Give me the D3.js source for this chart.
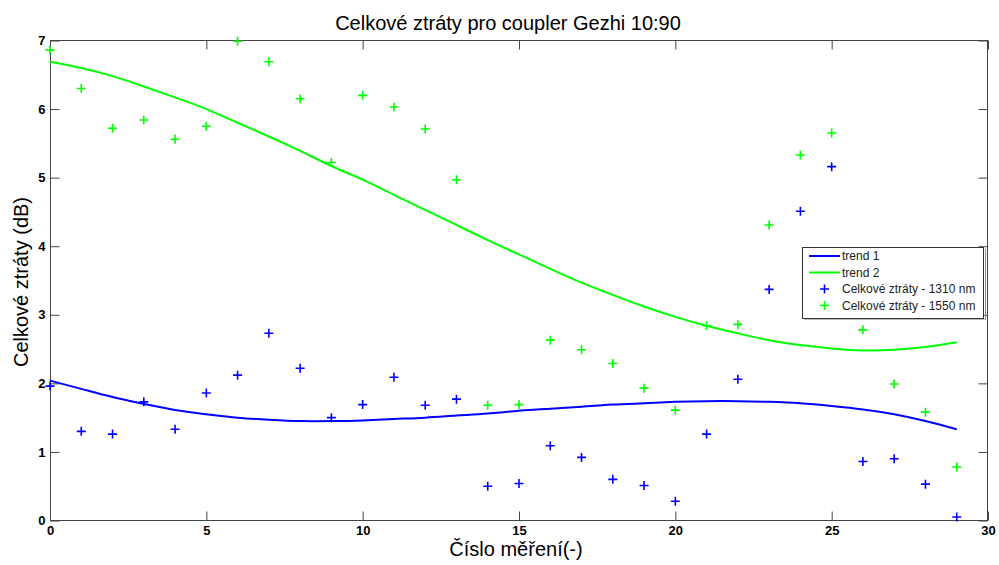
<!DOCTYPE html>
<html>
<head>
<meta charset="utf-8">
<script src="https://cdn.jsdelivr.net/npm/d3@7"></script>
<style>
body{margin:0;background:#fff;}
svg{display:block;font-family:"Liberation Sans",Arial,sans-serif;}
</style>
</head>
<body>
<svg id="chart" width="999" height="565"></svg>
<script>
// ---- data ----
const measurements = d3.range(0, 30);
const loss1310 = [1.96,1.30,1.26,1.73,1.33,1.86,2.12,2.73,2.22,1.50,1.69,2.09,1.68,1.77,0.50,0.54,1.09,0.92,0.60,0.51,0.28,1.26,2.06,3.37,4.51,5.16,0.86,0.90,0.53,0.05];
const loss1550 = [6.86,6.30,5.72,5.84,5.56,5.75,6.99,6.69,6.15,5.22,6.20,6.03,5.71,4.97,1.68,1.69,2.63,2.49,2.29,1.93,1.61,2.84,2.86,4.31,5.33,5.65,2.78,1.99,1.58,0.78];
const trend1 = [2.04,1.92,1.80,1.70,1.61,1.55,1.50,1.47,1.45,1.45,1.46,1.48,1.50,1.53,1.56,1.60,1.63,1.66,1.69,1.71,1.73,1.74,1.74,1.73,1.71,1.67,1.62,1.55,1.45,1.33];
const trend2 = [6.69,6.60,6.48,6.33,6.17,6.00,5.80,5.60,5.39,5.17,4.97,4.75,4.53,4.31,4.09,3.88,3.67,3.47,3.29,3.12,2.97,2.84,2.73,2.63,2.56,2.51,2.48,2.49,2.53,2.60];
const xTicks = [0,5,10,15,20,25,30];
const yTicks = [0,1,2,3,4,5,6,7];
const legendLabels = ["trend 1","trend 2","Celkové ztráty - 1310 nm","Celkové ztráty - 1550 nm"];
const titleText = "Celkové ztráty pro coupler Gezhi 10:90";
const xLabel = "Číslo měření(-)";
const yLabel = "Celkové ztráty (dB)";

const BLUE = "#0000ff", GREEN = "#00ff00";
const svg = d3.select("#chart");
const x = d3.scaleLinear().domain([0,30]).range([50,988]);
const y = d3.scaleLinear().domain([0,7]).range([520.5,40.5]);
const axisColor = "#444";

// box
svg.append("rect").attr("x",50.5).attr("y",40.5).attr("width",937).attr("height",480)
  .attr("fill","none").attr("stroke",axisColor).attr("stroke-width",1);

function styleAxis(g, showLabels){
  g.select(".domain").remove();
  g.selectAll(".tick line").attr("stroke",axisColor).attr("stroke-width",1);
  g.selectAll(".tick text").attr("fill","#000").style("font-size","13px").style("font-weight","bold")
   .style("font-family","'Liberation Sans',Arial,sans-serif");
  if(!showLabels) g.selectAll(".tick text").remove();
}
const fmt = d3.format("d");
svg.append("g").attr("transform","translate(0,520.5)")
  .call(d3.axisBottom(x).tickValues(xTicks).tickFormat(fmt).tickSize(-9).tickPadding(5))
  .call(g=>styleAxis(g,true));
svg.append("g").attr("transform","translate(0,40.5)")
  .call(d3.axisTop(x).tickValues(xTicks).tickSize(-9))
  .call(g=>styleAxis(g,false));
svg.append("g").attr("transform","translate(50.5,0)")
  .call(d3.axisLeft(y).tickValues(yTicks).tickFormat(fmt).tickSize(-9).tickPadding(5))
  .call(g=>styleAxis(g,true));
svg.append("g").attr("transform","translate(987.5,0)")
  .call(d3.axisRight(y).tickValues(yTicks).tickSize(-9))
  .call(g=>styleAxis(g,false));

// trend lines
const line = d3.line().x((d,i)=>x(measurements[i])).y(d=>y(d)).curve(d3.curveNatural);
svg.append("path").datum(trend1).attr("d",line).attr("fill","none").attr("stroke",BLUE).attr("stroke-width",2);
svg.append("path").datum(trend2).attr("d",line).attr("fill","none").attr("stroke",GREEN).attr("stroke-width",2);

// markers
function plus(g, cx, cy, color){
  const s = 4.5;
  g.append("path").attr("d",`M${cx-s},${cy}H${cx+s}M${cx},${cy-s}V${cy+s}`)
    .attr("stroke",color).attr("stroke-width",1.6).attr("fill","none");
}
const m1 = svg.append("g");
loss1310.forEach((v,i)=>plus(m1, x(measurements[i]), y(v), BLUE));
const m2 = svg.append("g");
loss1550.forEach((v,i)=>plus(m2, x(measurements[i]), y(v), GREEN));

// title & labels
svg.append("text").attr("x",508).attr("y",30).attr("text-anchor","middle")
  .style("font-size","20px").attr("fill","#000").text(titleText);
svg.append("text").attr("x",516).attr("y",556).attr("text-anchor","middle")
  .style("font-size","20px").attr("fill","#000").text(xLabel);
svg.append("text").attr("transform","translate(28,282) rotate(-90)").attr("text-anchor","middle")
  .style("font-size","20px").attr("fill","#000").text(yLabel);

// legend
const lg = svg.append("g");
lg.append("line").attr("x1",985.5).attr("x2",985.5).attr("y1",249).attr("y2",320).attr("stroke","#888").attr("stroke-width",1);
lg.append("line").attr("x1",804).attr("x2",985.5).attr("y1",319.5).attr("y2",319.5).attr("stroke","#bbb").attr("stroke-width",1);
lg.append("rect").attr("x",802.5).attr("y",247.5).attr("width",181).attr("height",71)
  .attr("fill","#fff").attr("stroke","#333").attr("stroke-width",1);
const rowY = [256,272.5,289,305.5];
const colors = [BLUE,GREEN,BLUE,GREEN];
legendLabels.forEach((lab,i)=>{
  if(i<2){
    lg.append("line").attr("x1",809).attr("x2",840).attr("y1",rowY[i]).attr("y2",rowY[i])
      .attr("stroke",colors[i]).attr("stroke-width",2);
  } else {
    plus(lg, 824.5, rowY[i], colors[i]);
  }
  lg.append("text").attr("x",842).attr("y",rowY[i]+4).style("font-size","12px").attr("fill","#222").text(lab);
});
</script>
</body>
</html>
